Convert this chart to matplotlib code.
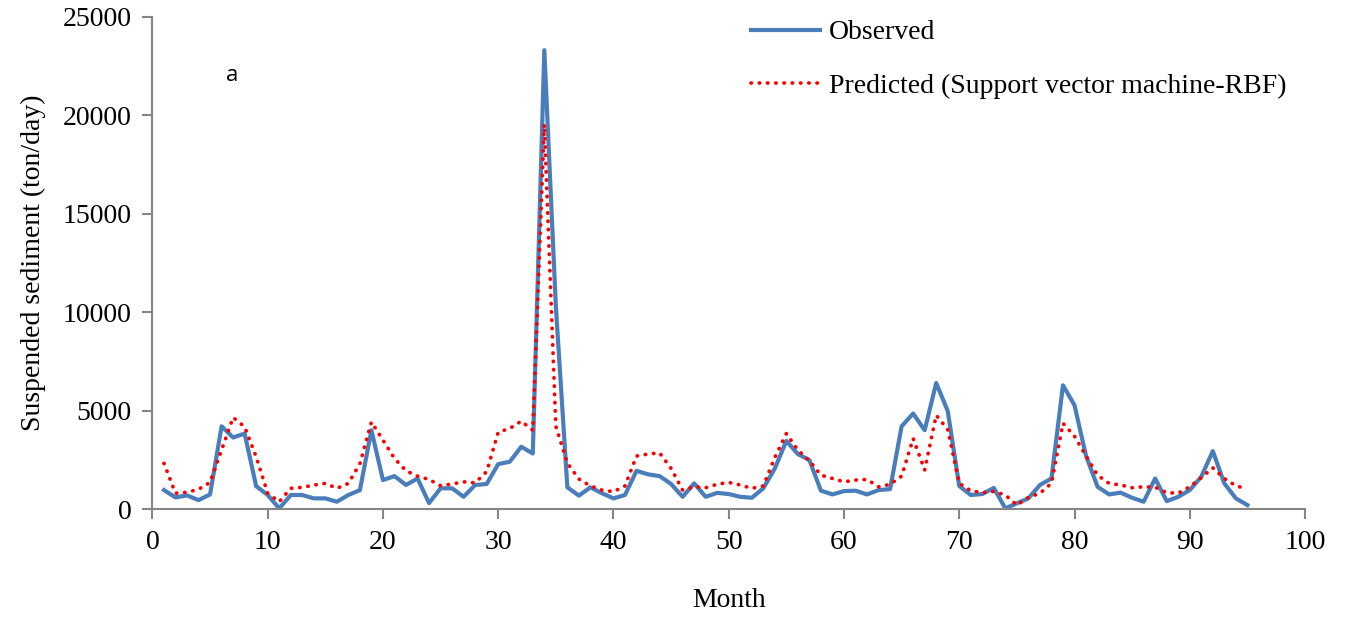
import matplotlib
matplotlib.use("Agg")
import matplotlib.pyplot as plt

months = list(range(1, 96))
observed = [960, 590, 690, 450, 740, 4200, 3630, 3830, 1160, 710,
            30, 710, 710, 540, 540, 370, 710, 960, 4000, 1470,
            1670, 1220, 1550, 300, 1050, 1050, 620, 1220, 1270, 2280,
            2400, 3160, 2820, 23300, 10300, 1100, 680, 1100, 800, 540,
            710, 1940, 1760, 1670, 1270, 620, 1300, 620, 820, 760,
            620, 570, 1050, 2060, 3460, 2790, 2480, 930, 740, 910,
            930, 740, 960, 1010, 4200, 4850, 4000, 6400, 4980, 1170,
            710, 760, 1070, 30, 290, 540, 1220, 1550, 6280, 5270,
            2700, 1130, 740, 830, 570, 370, 1550, 400, 620, 960,
            1640, 2940, 1300, 540, 200]
predicted = [2320, 800, 850, 1000, 1350, 3000, 4650, 4170, 2650, 800,
             370, 1050, 1100, 1215, 1300, 1050, 1300, 2300, 4420, 3500,
             2570, 1940, 1670, 1500, 1180, 1270, 1380, 1330, 1900, 3900,
             4090, 4460, 4000, 19540, 4200, 2330, 1520, 1170, 960, 880,
             1170, 2690, 2790, 2850, 2060, 960, 1130, 1080, 1260, 1350,
             1220, 1050, 1170, 2620, 3830, 2990, 2450, 1720, 1550, 1380,
             1470, 1500, 1130, 1250, 1670, 3580, 1980, 4760, 4040, 1300,
             930, 830, 890, 710, 200, 590, 800, 1300, 4350, 3700,
             2690, 1720, 1300, 1220, 1080, 1130, 1100, 830, 800, 1130,
             1590, 2090, 1550, 1180, 1010]

xticks = list(range(0, 101, 10))
yticks = list(range(0, 25001, 5000))

serif = ["Liberation Serif", "DejaVu Serif"]
fig = plt.figure(figsize=(13.49, 6.19), dpi=100)
ax = fig.add_axes([0.113, 0.1777, 0.8544, 0.7953])

ax.plot(months, observed, color="#4A7EBB", lw=3.0, label="Observed",
        solid_joinstyle="round", zorder=2)
ax.plot(months, predicted, color="#FF0000", lw=2.7, linestyle=(0, (0.1, 2.1)),
        dash_capstyle="round", label="Predicted (Support vector machine-RBF)", zorder=3)

ax.set_xlim(0, 100)
ax.set_ylim(0, 25000)
ax.set_xticks(xticks)
ax.set_yticks(yticks)
ax.set_xticklabels([str(v) for v in xticks], family=serif, fontsize=20)
ax.set_yticklabels([str(v) for v in yticks], family=serif, fontsize=20)
for s in ["top", "right"]:
    ax.spines[s].set_visible(False)
for s in ["left", "bottom"]:
    ax.spines[s].set_color("#868686")
    ax.spines[s].set_linewidth(1.5)
ax.tick_params(axis="both", direction="out", length=7, width=1.5, color="#868686", pad=8)

ax.set_xlabel("Month", family=serif, fontsize=20, labelpad=24)
ax.set_ylabel("Suspended sediment (ton/day)", family=serif, fontsize=20, labelpad=12)

ax.text(6.9, 22000, "a", family=["Open Sans", "DejaVu Sans"], fontsize=16,
        ha="center", va="center")

leg = ax.legend(loc="upper left", bbox_to_anchor=(0.4976, 1.044), frameon=False,
                prop={"family": serif, "size": 20}, handlelength=2.5,
                handletextpad=0.3, labelspacing=1.0)

fig.savefig("out.png", dpi=100)
